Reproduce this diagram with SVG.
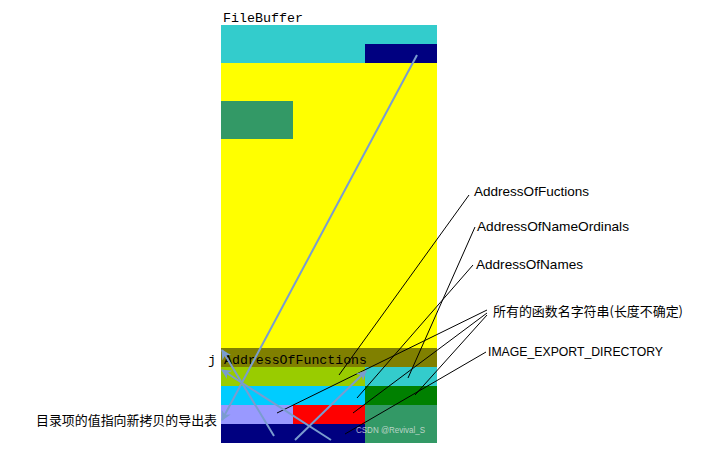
<svg xmlns="http://www.w3.org/2000/svg" width="710" height="453" viewBox="0 0 710 453">
<style>
.mono{font-family:"Liberation Mono","DejaVu Sans Mono",monospace;font-size:13.3px;fill:#000}
.lbl{font-family:"Liberation Sans","Noto Sans CJK SC",sans-serif;font-size:13.5px;fill:#000}
.cjk{font-family:"Noto Sans CJK SC","Liberation Sans",sans-serif;font-size:13px;fill:#000}
.lead{stroke:#000;stroke-width:1;fill:none}
.ptr{stroke:#7a9ccf;stroke-width:2;fill:none;marker-end:url(#ah)}
</style>
<defs>
<marker id="ah" viewBox="0 0 10 10" refX="9" refY="5" markerWidth="6" markerHeight="5" orient="auto" markerUnits="strokeWidth">
<path d="M0,0 L10,5 L0,10 L3,5 Z" fill="#7a9ccf"/>
</marker>
</defs>
<rect width="710" height="453" fill="#fff"/>
<g id="filebuffer">
<rect x="221" y="25" width="216" height="38" fill="#33cccc"/>
<rect x="365" y="44" width="72" height="19" fill="#000080"/>
<rect x="221" y="63" width="216" height="285" fill="#ffff00"/>
<rect x="221" y="101" width="72" height="38" fill="#339966"/>
<text class="mono" x="223" y="22" textLength="80" lengthAdjust="spacingAndGlyphs">FileBuffer</text>
</g>
<g id="addressoffunctions-row">
<rect x="221" y="348" width="216" height="19" fill="#808000"/>
<text class="mono" x="224" y="364" textLength="143" lengthAdjust="spacingAndGlyphs">AddressOfFunctions</text>
<text class="mono" x="208" y="364">j</text>
</g>
<g id="export-tables">
<rect x="221" y="367" width="144" height="19" fill="#99cc00"/>
<rect x="365" y="367" width="72" height="19" fill="#33cccc"/>
<rect x="221" y="386" width="144" height="19" fill="#00ccff"/>
<rect x="365" y="386" width="72" height="19" fill="#008000"/>
<rect x="221" y="405" width="72" height="19" fill="#9999ff"/>
<rect x="293" y="405" width="72" height="19" fill="#ff0000"/>
<rect x="365" y="405" width="72" height="38" fill="#339966"/>
<rect x="221" y="424" width="144" height="19" fill="#000080"/>
</g>
<g id="labels">
<text class="lbl" x="474" y="196" textLength="115" lengthAdjust="spacingAndGlyphs">AddressOfFuctions</text>
<text class="lbl" x="477" y="231" textLength="152" lengthAdjust="spacingAndGlyphs">AddressOfNameOrdinals</text>
<text class="lbl" x="476" y="269" textLength="107" lengthAdjust="spacingAndGlyphs">AddressOfNames</text>
<text class="cjk" x="493" y="316" textLength="190" lengthAdjust="spacingAndGlyphs">所有的函数名字符串(长度不确定)</text>
<text class="lbl" x="488" y="356" textLength="175" lengthAdjust="spacingAndGlyphs">IMAGE_EXPORT_DIRECTORY</text>
<text class="cjk" x="36" y="425" textLength="181" lengthAdjust="spacingAndGlyphs">目录项的值指向新拷贝的导出表</text>
</g>
<g id="connectors">
<line class="lead" x1="469" y1="195" x2="339" y2="375"/>
<line class="lead" x1="475" y1="227" x2="408" y2="378"/>
<line class="lead" x1="473" y1="265" x2="357" y2="398"/>
<line class="lead" x1="487" y1="310" x2="277" y2="413"/>
<line class="lead" x1="487" y1="313" x2="353" y2="413"/>
<line class="lead" x1="487" y1="315" x2="415" y2="395"/>
<line class="lead" x1="486" y1="352" x2="345" y2="434"/>
<line class="ptr" x1="417" y1="55" x2="222" y2="420"/>
<line class="ptr" x1="274" y1="436" x2="222" y2="350"/>
<line class="ptr" x1="331" y1="440" x2="222" y2="370"/>
<line class="ptr" x1="295" y1="440" x2="366" y2="371"/>
</g>
<text x="356" y="433" font-family="Liberation Sans, sans-serif" font-size="9.5" fill="#e8e8e8" fill-opacity="0.75" textLength="69" lengthAdjust="spacingAndGlyphs">CSDN @Revival_S</text>
</svg>
